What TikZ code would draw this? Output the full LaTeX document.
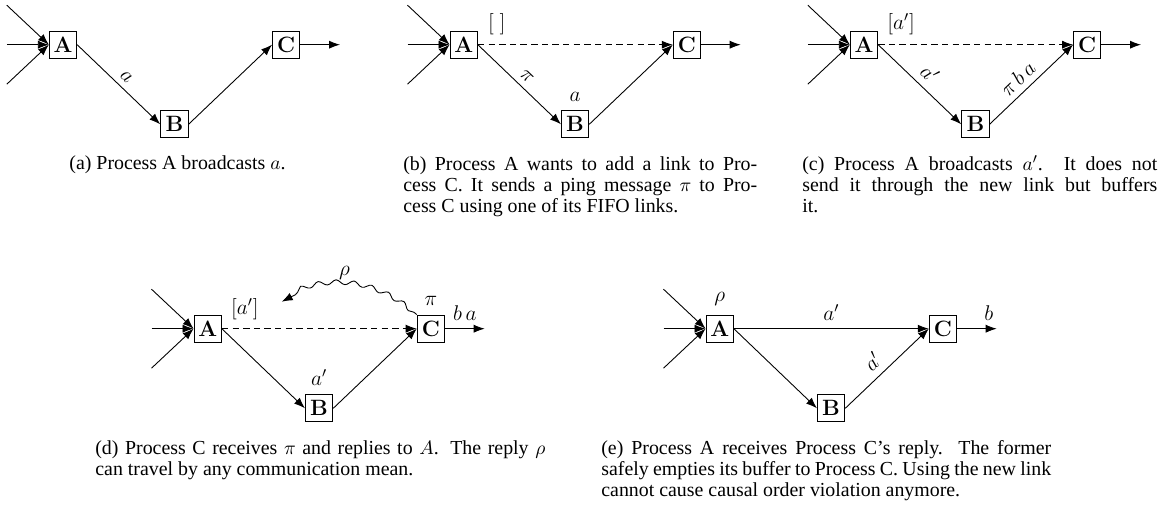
\documentclass[tikz,border=0pt]{standalone}
\usepackage{fontspec}
\newfontfamily\capfont{Liberation Serif}
\usetikzlibrary{arrows.meta,decorations.pathmorphing}
\newcommand\basepanel[1]{%
  \node[proc] (#1A) at (0,0) {A};
  \node[proc] (#1B) at (111.4,79.6) {B};
  \node[proc] (#1C) at (223.2,0) {C};
  \coordinate (#1i1) at (-56.2,-39.5);
  \coordinate (#1i2) at (-56.2,0);
  \coordinate (#1i3) at (-56.2,39.5);
  \coordinate (#1out) at (277,0);
  \draw[msg] (#1i1) -- (#1A.west);
  \draw[msg] (#1i2) -- (#1A.west);
  \draw[msg] (#1i3) -- (#1A.west);
}
\begin{document}
\begin{tikzpicture}[x=0.5634pt,y=-0.5634pt,
  proc/.style={draw, line width=0.55pt, minimum size=15.4pt, inner sep=0pt,
    font=\fontsize{12.5}{14}\selectfont\bfseries},
  msg/.style={line width=0.5pt, -{Latex[length=6.2pt,width=4.6pt]}},
  link/.style={msg, dash pattern=on 3.6pt off 2.4pt},
  lbl/.style={font=\fontsize{12}{14}\selectfont, anchor=south, inner sep=0pt},
  buf/.style={font=\fontsize{12}{14}\selectfont, anchor=base west, inner sep=0pt},
  slab/.style={font=\fontsize{12}{14}\selectfont, sloped, above, inner sep=3.3pt, midway},
  elab/.style={font=\fontsize{12}{14}\selectfont, above=4.3pt, inner sep=0pt},
  captxt/.style={font=\capfont\fontsize{11.2}{12}\selectfont, inner sep=0pt, align=left},
]
\useasboundingbox (0,0) rectangle (1160,511);
% (a)
\begin{scope}[shift={(63,44.7)}]
  \basepanel{a}
  \draw[msg] (aA.east) -- node[slab]{$a$} (aB.west);
  \draw[msg] (aB.east) -- (aC.west);
  \draw[msg] (aC.east) -- (aout);
\end{scope}
% (b)
\begin{scope}[shift={(463.7,44.7)}]
  \basepanel{b}
  \draw[link] (bA.east) -- (bC.west);
  \draw[msg] (bA.east) -- node[slab]{$\pi$} (bB.west);
  \draw[msg] (bB.east) -- (bC.west);
  \draw[msg] (bC.east) -- (bout);
  \node[buf] (bbuf) at (24,-15) {$[\;]$};
  \node[lbl] (bmsg) at ([yshift=4.7pt]bB.north) {$a$};
\end{scope}
% (c)
\begin{scope}[shift={(864,44.7)}]
  \basepanel{c}
  \draw[link] (cA.east) -- (cC.west);
  \draw[msg] (cA.east) -- node[slab, inner sep=3.8pt]{$a'$} (cB.west);
  \draw[msg] (cB.east) -- node[slab, pos=0.45]{$\pi\,b\,a$} (cC.west);
  \draw[msg] (cC.east) -- (cout);
  \node[buf] (cbuf) at (23,-15) {$[a']$};
\end{scope}
% (d)
\begin{scope}[shift={(207.7,328.7)}]
  \basepanel{d}
  \draw[link] (dA.east) -- (dC.west);
  \draw[msg] (dA.east) -- (dB.west);
  \draw[msg] (dB.east) -- (dC.west);
  \draw[msg] (dC.east) -- node[elab]{$b\,a$} (dout);
  \node[buf] (dbuf) at (23,-14) {$[a']$};
  \node[lbl] (dmsgB) at ([yshift=4.7pt]dB.north) {$a'$};
  \node[lbl] (dmsgC) at ([yshift=4.7pt]dC.north) {$\pi$};
  \coordinate (dreply) at (74,-27);
  \draw[msg, decorate, decoration={snake, amplitude=1.3pt, segment length=10pt,
      pre length=2pt, post length=6pt}]
    (dC.north west) to[bend right=35] node[font=\fontsize{12}{14}\selectfont, above, inner sep=3pt, pos=0.55]{$\rho$} (dreply);
\end{scope}
% (e)
\begin{scope}[shift={(719.7,328.7)}]
  \basepanel{e}
  \draw[msg] (eA.east) -- node[elab]{$a'$} (eC.west);
  \draw[msg] (eA.east) -- (eB.west);
  \draw[msg] (eB.east) -- node[slab, inner sep=3.8pt, pos=0.45]{$a'$} (eC.west);
  \draw[msg] (eC.east) -- node[elab, pos=0.8]{$b$} (eout);
  \node[lbl] (erho) at ([yshift=4.7pt]eA.north) {$\rho$};
\end{scope}
% captions
\node[captxt, anchor=base] (capa) at (177.5,170) {(a) Process A broadcasts $a$.};
\node[captxt, anchor=north west] (capb) at (403,155.1)
  {\hbox to 199.4pt{\strut(b) Process A wants to add a link to Pro-}\\
   \hbox to 199.4pt{cess C. It sends a ping message $\pi$ to Pro-}\\
   cess C using one of its FIFO links.};
\node[captxt, anchor=north west] (capc) at (802,155.1)
  {\hbox to 200pt{\strut(c) Process A broadcasts $a'$.  It does not}\\
   \hbox to 200pt{send it through the new link but buffers}\\
   it.};
\node[captxt, anchor=north west] (capd) at (95,439.1)
  {\hbox to 253.5pt{\strut(d) Process C receives $\pi$ and replies to $A$. The reply $\rho$}\\
   can travel by any communication mean.};
\node[captxt, anchor=north west] (cape) at (601,439.1)
  {\hbox to 253.5pt{\strut(e) Process A receives Process C’s reply.  The former}\\
   \hbox to 253.5pt{safely empties its buffer to Process C. Using the new link}\\
   cannot cause causal order violation anymore.};
\end{tikzpicture}
\end{document}
